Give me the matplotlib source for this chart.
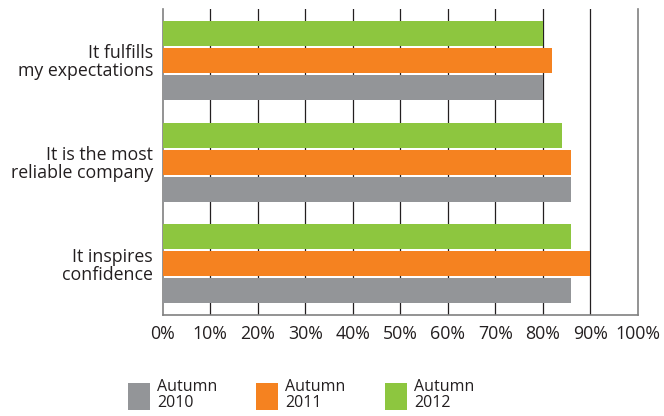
import matplotlib
matplotlib.use('Agg')
import matplotlib.pyplot as plt
import numpy as np

plt.rcParams['font.family'] = ['Open Sans', 'DejaVu Sans']

categories = ["It fulfills\nmy expectations", "It is the most\nreliable company", "It inspires\nconfidence"]
series_names = ["Autumn\n2010", "Autumn\n2011", "Autumn\n2012"]
autumn_2010 = [80, 86, 86]
autumn_2011 = [82, 86, 90]
autumn_2012 = [80, 84, 86]
x_ticks = [0, 10, 20, 30, 40, 50, 60, 70, 80, 90, 100]
x_labels = [f"{t}%" for t in x_ticks]

colors = ["#939598", "#f58220", "#8dc63f"]
text_color = '#231f20'
fs = 12.8
leg_fs = 11.5

fig = plt.figure(figsize=(6.64, 4.16), dpi=100, facecolor='white')
ax = fig.add_axes([0.245, 0.243, 0.7155, 0.735])

y = np.arange(len(categories))
step = 0.265
height = 0.245
offsets = [step, 0, -step]
bars = []
for vals, off, c, name in zip([autumn_2010, autumn_2011, autumn_2012], offsets, colors, series_names):
    b = ax.barh(y + off, vals, height=height, color=c, label=name, zorder=3)
    bars.append(b)

ax.set_xlim(0, 100)
ax.set_ylim(2.5, -0.5)
ax.set_xticks(x_ticks)
ax.set_xticklabels(x_labels, fontsize=fs, color=text_color)
ax.set_yticks(y)
ax.set_yticklabels(categories, fontsize=fs, color=text_color, linespacing=1.0)
ax.tick_params(axis='y', length=0, pad=7)
ax.tick_params(axis='x', length=0, pad=7)

for t in x_ticks[1:-1]:
    ax.axvline(t, color=text_color, lw=0.9, zorder=1)

ax.spines['top'].set_visible(False)
for side in ['left', 'right', 'bottom']:
    ax.spines[side].set_color('#808080')
    ax.spines[side].set_linewidth(1.2)

leg = fig.legend(handles=bars, labels=series_names, loc='lower left',
                 bbox_to_anchor=(0.183, -0.003), ncol=3, frameon=False,
                 fontsize=leg_fs, handlelength=1.38, handleheight=2.2,
                 handletextpad=0.44, columnspacing=2.45, labelspacing=0.2,
                 borderaxespad=0.0)
for txt in leg.get_texts():
    txt.set_color(text_color)
    txt.set_linespacing(0.95)

plt.savefig('out.png', dpi=100, facecolor='white')
